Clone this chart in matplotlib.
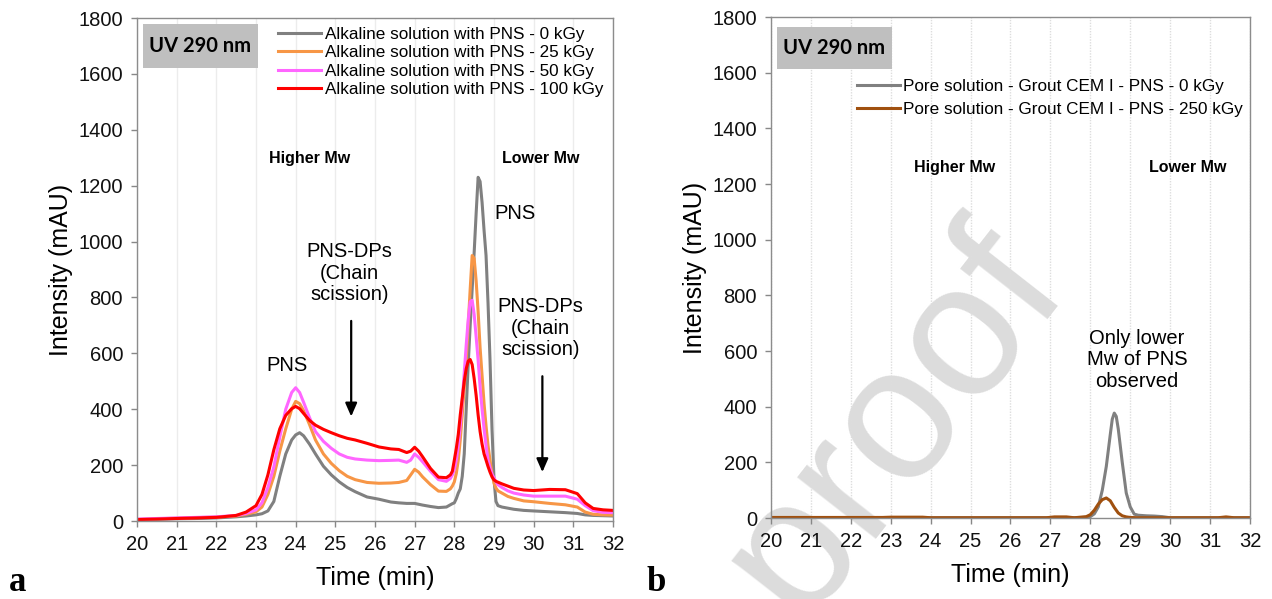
import numpy as np
import matplotlib
matplotlib.use("Agg")
import matplotlib.pyplot as plt

plt.rcParams['font.family'] = ['Liberation Sans', 'DejaVu Sans']

# Retention time grid for the alkaline solution runs (min)
time_a = [20.0, 20.5, 21.0, 21.5, 22.0, 22.5, 22.75, 23.0, 23.15, 23.3, 23.45, 23.6,
          23.75, 23.9, 24.0, 24.1, 24.2, 24.35, 24.5, 24.7, 24.9, 25.1, 25.3, 25.5,
          25.8, 26.1, 26.4, 26.6, 26.8, 26.9, 27.0, 27.1, 27.2, 27.4, 27.6, 27.8,
          27.9, 27.95, 28.0, 28.05, 28.1, 28.15, 28.2, 28.25, 28.3, 28.35, 28.4, 28.45,
          28.5, 28.55, 28.6, 28.65, 28.7, 28.75, 28.8, 28.85, 28.9, 28.95, 29.0, 29.05,
          29.1, 29.2, 29.35, 29.5, 29.75, 30.0, 30.4, 30.8, 31.1, 31.3, 31.5, 31.75, 32.0]

pns_0kgy = [5, 6, 8, 9, 11, 15, 18, 22, 26, 36, 70, 160,
            240, 290, 308, 316, 305, 275, 240, 196, 165, 140, 120, 105,
            86, 78, 68, 65, 63, 63, 63, 60, 57, 52, 48, 50,
            58, 62, 65, 80, 100, 115, 160, 240, 400, 560, 700, 830,
            960, 1100, 1230, 1215, 1140, 1040, 950, 780, 576, 330, 150, 70,
            55, 50, 46, 42, 38, 36, 33, 30, 27, 22, 20, 19, 18]

pns_25kgy = [6, 8, 10, 12, 14, 18, 24, 33, 50, 95, 160, 250,
             330, 400, 428, 420, 395, 345, 290, 240, 206, 180, 160, 148,
             138, 135, 136, 138, 145, 165, 185, 175, 158, 130, 107, 106,
             115, 125, 140, 170, 218, 290, 380, 480, 576, 700, 830, 950,
             940, 860, 750, 620, 520, 420, 340, 270, 218, 170, 136, 118,
             108, 100, 88, 81, 72, 69, 63, 58, 50, 32, 24, 22, 21]

pns_50kgy = [7, 9, 11, 13, 15, 20, 27, 40, 65, 120, 194, 300,
             400, 460, 477, 460, 425, 370, 320, 285, 260, 240, 228, 222,
             218, 216, 217, 218, 210, 218, 240, 228, 212, 178, 148, 142,
             152, 165, 185, 218, 270, 340, 430, 530, 630, 720, 785, 790,
             740, 660, 576, 480, 400, 330, 270, 218, 190, 168, 155, 140,
             130, 120, 108, 100, 93, 89, 89, 89, 78, 55, 37, 31, 30]

pns_100kgy = [5, 7, 9, 11, 13, 20, 32, 55, 95, 165, 255, 330,
              378, 402, 410, 402, 385, 360, 343, 328, 316, 305, 296, 290,
              278, 265, 258, 256, 245, 250, 264, 250, 230, 188, 157, 155,
              165, 178, 218, 260, 310, 380, 440, 500, 545, 572, 578, 560,
              510, 450, 380, 320, 275, 240, 218, 195, 175, 158, 147, 142,
              139, 133, 125, 117, 111, 109, 113, 112, 98, 65, 45, 40, 38]

# Pore solution of the CEM I grout
time_b0 = [20.0, 22.0, 24.0, 26.0, 27.0, 27.5, 27.9, 28.0, 28.1, 28.2, 28.3, 28.4,
           28.5, 28.55, 28.6, 28.65, 28.7, 28.8, 28.9, 29.0, 29.1, 29.2, 29.4, 29.6,
           29.8, 30.0, 31.0, 32.0]
pore_0kgy = [1, 1, 1, 1, 1, 1, 2, 5, 15, 40, 100, 185,
             300, 355, 377, 365, 320, 200, 90, 40, 14, 10, 8, 7,
             5, 1, 1, 1]

time_b250 = [20.0, 22.8, 23.0, 23.8, 24.0, 26.9, 27.1, 27.4, 27.6, 27.9, 28.0, 28.1,
             28.2, 28.3, 28.4, 28.5, 28.6, 28.7, 28.8, 28.9, 29.0, 29.2, 31.2, 31.4,
             31.6, 32.0]
pore_250kgy = [2, 2, 3, 3, 1, 1, 4, 4, 1, 5, 12, 28,
               50, 66, 72, 62, 38, 18, 8, 4, 2, 1, 1, 4,
               1, 1]

labels_a = ["Alkaline solution with PNS - 0 kGy", "Alkaline solution with PNS - 25 kGy",
            "Alkaline solution with PNS - 50 kGy", "Alkaline solution with PNS - 100 kGy"]
colors_a = ["#808080", "#f79646", "#ff66ff", "#ff0000"]
labels_b = ["Pore solution - Grout CEM I - PNS - 0 kGy",
            "Pore solution - Grout CEM I - PNS - 250 kGy"]
colors_b = ["#808080", "#a0500f"]

x_ticks = list(range(20, 33))
y_ticks = list(range(0, 1801, 200))

fig = plt.figure(figsize=(12.72, 5.99), dpi=100)

# faint "Journal Pre-proof" stamp behind both panels
fig.text(0.842, 0.515, "Journal Pre-proof", fontsize=137, color="#dcdcdc",
         rotation=52, rotation_mode="anchor", ha="right", va="baseline", zorder=-1)

ax1 = fig.add_axes([0.1077, 0.1302, 0.3742, 0.8397])
ax2 = fig.add_axes([0.6061, 0.1352, 0.3766, 0.8364])

for ax in (ax1, ax2):
    ax.patch.set_alpha(0)
    ax.set_xlim(20, 32)
    ax.set_ylim(0, 1800)
    ax.set_xticks(x_ticks)
    ax.set_yticks(y_ticks)
    ax.tick_params(axis="both", labelsize=14.5, colors="#888888", labelcolor="#111111",
                   length=4, width=1, pad=6)
    for s in ax.spines.values():
        s.set_color("#8c8c8c")
        s.set_linewidth(1.0)
    ax.set_xlabel("Time (min)", fontsize=18, labelpad=9)
    ax.set_ylabel("Intensity (mAU)", fontsize=18, labelpad=4)

ax1.grid(axis="x", color="#ececec", linewidth=1.0, zorder=0)
ax2.grid(axis="x", color="#dddddd", linewidth=1.0, linestyle=(0, (1, 1)), zorder=0)

# panel a: alkaline solutions
for vals, c, lab in zip([pns_0kgy, pns_25kgy, pns_50kgy, pns_100kgy], colors_a, labels_a):
    ax1.plot(time_a, vals, color=c, linewidth=2.2, label=lab, solid_joinstyle="round")

ax1.legend(loc="upper left", bbox_to_anchor=(0.268, 1.01), frameon=False, fontsize=12.3,
           handlelength=2.5, handletextpad=0.25, labelspacing=0.2, borderpad=0.3)

# panel b: pore solutions
ax2.plot(time_b0, pore_0kgy, color=colors_b[0], linewidth=2.2, label=labels_b[0])
ax2.plot(time_b250, pore_250kgy, color=colors_b[1], linewidth=2.2, label=labels_b[1])
ax2.legend(loc="upper left", bbox_to_anchor=(0.151, 0.903), frameon=False, fontsize=12.3,
           handlelength=2.5, handletextpad=0.2, labelspacing=0.45, borderpad=0.3)

# wavelength boxes
for ax, box in ((ax1, (0.0126, 0.9006, 0.2416, 0.0875)), (ax2, (0.0125, 0.896, 0.24, 0.084))):
    ax.add_patch(plt.Rectangle(box[:2], box[2], box[3], transform=ax.transAxes,
                               facecolor="#bfbfbf", edgecolor="none", zorder=3))
    ax.text(box[0] + box[2] / 2, box[1] + box[3] / 2, "UV 290 nm", transform=ax.transAxes,
            ha="center", va="center", fontsize=14.5, fontweight="bold",
            family=["Lato", "DejaVu Sans"], zorder=4)

bold_kw = dict(ha="center", va="center", fontsize=11.5, fontweight="bold")
note_kw = dict(ha="center", va="center", fontsize=14.5, linespacing=1.15)

ax1.text(24.35, 1299, "Higher Mw", **bold_kw)
ax1.text(30.18, 1299, "Lower Mw", **bold_kw)
ax1.text(23.77, 558, "PNS", **note_kw)
ax1.text(29.52, 1102, "PNS", **note_kw)
ax1.text(25.36, 887, "PNS-DPs\n(Chain\nscission)", **note_kw)
ax1.text(30.18, 690, "PNS-DPs\n(Chain\nscission)", **note_kw)
arrow_kw = dict(arrowstyle="-|>,head_length=0.8,head_width=0.35", color="black", lw=1.6)
ax1.annotate("", xy=(25.4, 364), xytext=(25.4, 726), arrowprops=arrow_kw)
ax1.annotate("", xy=(30.22, 165), xytext=(30.22, 528), arrowprops=arrow_kw)

ax2.text(24.61, 1261, "Higher Mw", **bold_kw)
ax2.text(30.45, 1261, "Lower Mw", **bold_kw)
ax2.text(29.17, 568, "Only lower\nMw of PNS\nobserved", **note_kw)

fig.text(0.007, 0.013, "a", fontsize=25, fontweight="bold", family="Liberation Serif")
fig.text(0.508, 0.013, "b", fontsize=25, fontweight="bold", family="Liberation Serif")

fig.savefig("out.png", dpi=100)
